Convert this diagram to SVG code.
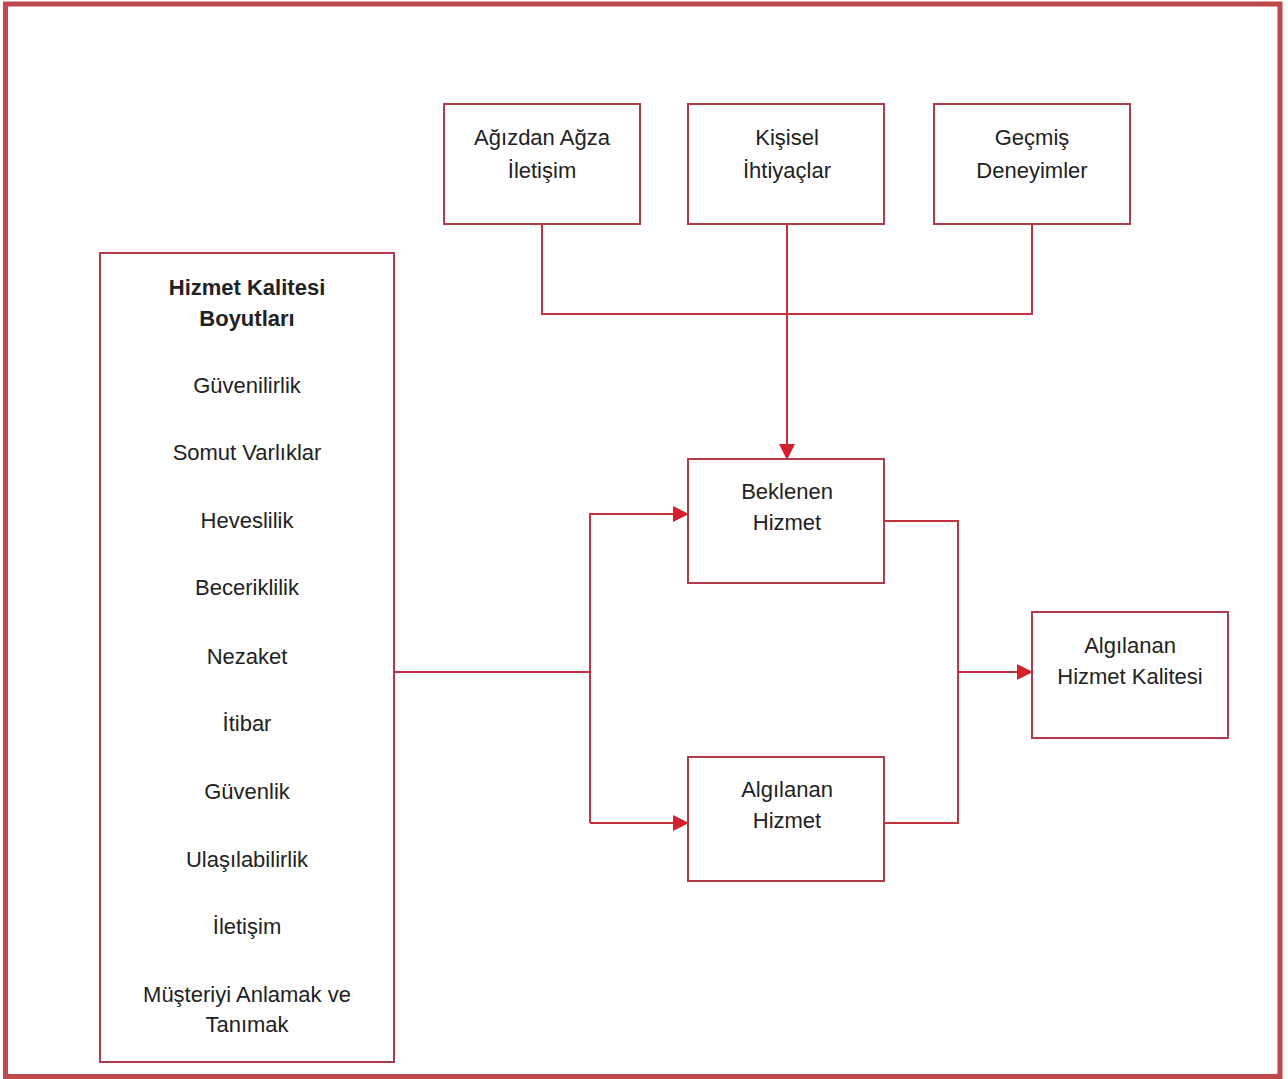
<svg xmlns="http://www.w3.org/2000/svg" width="1288" height="1079" viewBox="0 0 1288 1079">
  <style>
    .box { fill: #ffffff; stroke: #b23a4a; stroke-width: 2; }
    .wire { fill: none; stroke: #c8303e; stroke-width: 2; }
    text { font-family: "Liberation Sans", Arial, sans-serif; font-size: 22px; fill: #222222; text-anchor: middle; }
    .head { font-weight: bold; }
  </style>
  <defs>
    <marker id="arrow" markerWidth="16" markerHeight="16" refX="15" refY="8" orient="auto" markerUnits="userSpaceOnUse">
      <path d="M0,0 L16,8 L0,16 Z" fill="#d4202f"/>
    </marker>
  </defs>

  <rect x="0" y="0" width="1288" height="1079" fill="#ffffff"/>
  <!-- outer frame -->
  <rect x="5.5" y="4" width="1274.5" height="1072.5" fill="none" stroke="#bf484b" stroke-width="5"/>

  <!-- connectors -->
  <g id="connectors">
    <path class="wire" d="M542,224 V314 H1032 V224"/>
    <path class="wire" d="M787,224 V459" marker-end="url(#arrow)"/>
    <path class="wire" d="M394,672 H590"/>
    <path class="wire" d="M590,823 V514 H688" marker-end="url(#arrow)"/>
    <path class="wire" d="M590,823 H688" marker-end="url(#arrow)"/>
    <path class="wire" d="M884,521 H958 V823 H884"/>
    <path class="wire" d="M958,672 H1032" marker-end="url(#arrow)"/>
  </g>

  <g id="node-agizdan">
    <rect class="box" x="444" y="104" width="196" height="120"/>
    <text x="542" y="145">Ağızdan Ağza</text>
    <text x="542" y="178">İletişim</text>
  </g>
  <g id="node-kisisel">
    <rect class="box" x="688" y="104" width="196" height="120"/>
    <text x="787" y="145">Kişisel</text>
    <text x="787" y="178">İhtiyaçlar</text>
  </g>
  <g id="node-gecmis">
    <rect class="box" x="934" y="104" width="196" height="120"/>
    <text x="1032" y="145">Geçmiş</text>
    <text x="1032" y="178">Deneyimler</text>
  </g>

  <g id="node-boyutlar">
    <rect class="box" x="100" y="253" width="294" height="809"/>
    <text class="head" x="247" y="295">Hizmet Kalitesi</text>
    <text class="head" x="247" y="326">Boyutları</text>
    <text x="247" y="393">Güvenilirlik</text>
    <text x="247" y="460">Somut Varlıklar</text>
    <text x="247" y="528">Heveslilik</text>
    <text x="247" y="595">Beceriklilik</text>
    <text x="247" y="664">Nezaket</text>
    <text x="247" y="731">İtibar</text>
    <text x="247" y="799">Güvenlik</text>
    <text x="247" y="867">Ulaşılabilirlik</text>
    <text x="247" y="934">İletişim</text>
    <text x="247" y="1002">Müşteriyi Anlamak ve</text>
    <text x="247" y="1032">Tanımak</text>
  </g>

  <g id="node-beklenen">
    <rect class="box" x="688" y="459" width="196" height="124"/>
    <text x="787" y="499">Beklenen</text>
    <text x="787" y="530">Hizmet</text>
  </g>
  <g id="node-algilanan">
    <rect class="box" x="688" y="757" width="196" height="124"/>
    <text x="787" y="797">Algılanan</text>
    <text x="787" y="828">Hizmet</text>
  </g>
  <g id="node-kalite">
    <rect class="box" x="1032" y="612" width="196" height="126"/>
    <text x="1130" y="653">Algılanan</text>
    <text x="1130" y="684">Hizmet Kalitesi</text>
  </g>
</svg>
